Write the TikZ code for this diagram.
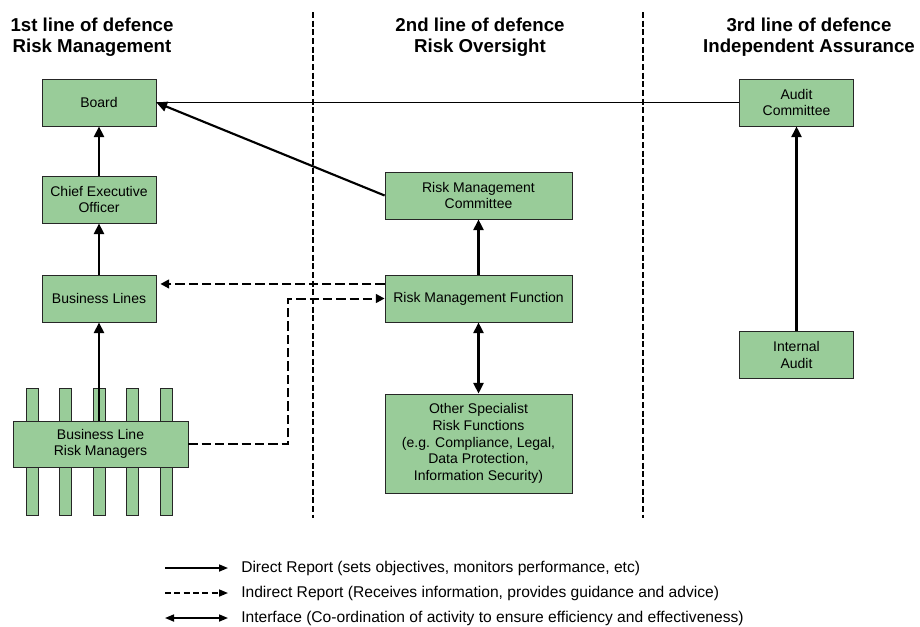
\documentclass[tikz,border=0pt]{standalone}
\usepackage{fontspec}
\setmainfont{Liberation Sans}
\usetikzlibrary{arrows.meta}
\definecolor{boxgreen}{RGB}{153,204,153}
\tikzset{
  box/.style={draw=black!85,line width=0.6pt,fill=boxgreen,align=center,inner sep=2pt,
    font=\fontsize{10.5}{12.5}\selectfont},
  title/.style={align=center,font=\fontsize{14}{15.75}\selectfont\bfseries},
  legend/.style={anchor=west,inner sep=0pt,font=\fontsize{11.7}{14}\selectfont},
  direct/.style={-{Triangle[length=8pt,width=7.5pt]}},
  interface/.style={{Triangle[length=8pt,width=7.5pt]}-{Triangle[length=8pt,width=7.5pt]}},
  indirect/.style={draw=black,line width=1.5pt,dash pattern=on 7pt off 3pt,
    -{Triangle[length=6.5pt,width=6.5pt]}},
  separator/.style={draw=black,line width=1.1pt,dash pattern=on 4.5pt off 2pt},
  key/.style={draw=black,line width=1.25pt},
  keytip/.style={-{Triangle[length=6.75pt,width=5.25pt]}}
}
\begin{document}
\begin{tikzpicture}[x=0.75pt,y=-0.75pt]
\useasboundingbox (0,0) rectangle (920,626);
\draw[separator] (313,12) -- (313,518);
\draw[separator] (643,12) -- (643,518);
\node[title] (t1) at (92,37) {1st line of defence\\Risk Management};
\node[title] (t2) at (480,37) {2nd line of defence\\Risk Oversight};
\node[title] (t3) at (809,37) {3rd line of defence\\Independent Assurance};
\foreach \x in {32,65,99,132,166}
    \node[box,minimum width=9pt,minimum height=95.25pt,inner sep=0pt] (bar\x) at (\x,451.5) {};
\begin{scope}[every node/.style={box,minimum width=85.5pt,minimum height=35.25pt}]
    \node (board) at (99,102.5) {Board};
    \node (ceo) at (99,199.5) {Chief Executive\\Officer};
    \node (lines) at (99,298.5) {Business Lines};
    \node (audcom) at (796.5,102.5) {Audit\\Committee};
    \node (intaud) at (796.5,355) {Internal\\Audit};
\end{scope}
\begin{scope}[every node/.style={box,minimum width=140.25pt,minimum height=35.25pt}]
    \node (rmc) at (478.5,195.5) {Risk Management\\Committee};
    \node (rmf) at (478.5,298.5) {Risk Management Function};
    \node[minimum height=74.25pt] (other) at (478.5,443.5) {Other Specialist\\Risk Functions\\(e.g. Compliance, Legal,\\Data Protection,\\Information Security)};
\end{scope}
\node[box,minimum width=131.25pt,minimum height=34.5pt] (blrm) at (100.5,444) {Business Line\\Risk Managers};
\begin{scope}[every edge/.style={draw=black,line width=1.6pt}]
    \path (audcom.west) edge[line width=0.75pt] (board.east);
    \path (ceo) edge[direct] (board);
    \path (lines) edge[direct] (ceo);
    \path (blrm.north -| lines) edge[direct] (lines);
    \path (rmc.west) edge[direct] (board.east);
    \path (rmf) edge[direct] (rmc);
    \path (rmf) edge[interface] (other);
    \path (intaud) edge[direct] (audcom);
\end{scope}
\draw[indirect,shorten >=3pt] ([yshift=10.9pt]rmf.west) -- ([yshift=10.9pt]lines.east);
\draw[indirect] (blrm.east) -- ++(75pt,0) |- (rmf.west);
\node[legend] (ldir) at (241,568) {Direct Report (sets objectives, monitors performance, etc)};
\node[legend] (lind) at (241,593) {Indirect Report (Receives information, provides guidance and advice)};
\node[legend] (lint) at (241,618) {Interface (Co-ordination of activity to ensure efficiency and effectiveness)};
\coordinate (kdir) at (165,568);
\coordinate (kind) at (165,593);
\coordinate (kint) at (165,618);
\draw[key,keytip] (kdir) -- ([xshift=-9.75pt]ldir.west);
\draw[key,keytip,dash pattern=on 4.5pt off 2.5pt] (kind) -- ([xshift=-9.75pt]lind.west);
\draw[key,{Triangle[length=6.75pt,width=5.25pt]}-{Triangle[length=6.75pt,width=5.25pt]}] (kint) -- ([xshift=-9.75pt]lint.west);
\end{tikzpicture}
\end{document}
